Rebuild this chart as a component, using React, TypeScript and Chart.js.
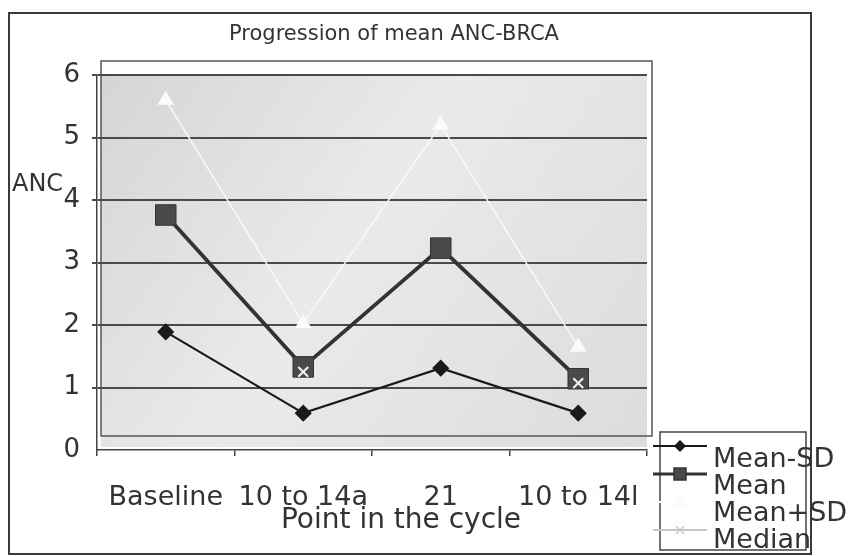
import React, { useEffect, useRef } from 'react';
import { Chart, registerables } from 'chart.js';

Chart.register(...registerables);

const categories = ['Baseline', '10 to 14a', '21', '10 to 14l'];
const meanMinusSD = [1.89, 0.59, 1.31, 0.59];
const meanValues = [3.76, 1.33, 3.23, 1.14];
const meanPlusSD = [5.6, 2.03, 5.2, 1.65];
const medianValues = [null, 1.25, null, 1.07];
const seriesNames = ['Mean-SD', 'Mean', 'Mean+SD', 'Median'];
const yMin = 0;
const yMax = 6;
const yStep = 1;
const titleText = 'Progression of mean ANC-BRCA';
const yTitleText = 'ANC';
const xTitleText = 'Point in the cycle';

const FONT = '"DejaVu Sans", sans-serif';
const TEXT = '#333333';

function drawMarker(ctx: CanvasRenderingContext2D, style: string, x: number, y: number, r: number, fill: string, stroke: string) {
  ctx.save();
  ctx.fillStyle = fill;
  ctx.strokeStyle = stroke;
  ctx.lineWidth = 1.5;
  ctx.beginPath();
  if (style === 'rectRot') {
    ctx.moveTo(x - r, y); ctx.lineTo(x, y - r); ctx.lineTo(x + r, y); ctx.lineTo(x, y + r); ctx.closePath();
    ctx.fill(); ctx.stroke();
  } else if (style === 'rect') {
    ctx.rect(x - r, y - r, 2 * r, 2 * r); ctx.fill(); ctx.stroke();
  } else if (style === 'triangle') {
    ctx.moveTo(x, y - r); ctx.lineTo(x + r * 0.9, y + r * 0.6); ctx.lineTo(x - r * 0.9, y + r * 0.6); ctx.closePath();
    ctx.fill(); ctx.stroke();
  } else {
    ctx.moveTo(x - r, y - r); ctx.lineTo(x + r, y + r); ctx.moveTo(x + r, y - r); ctx.lineTo(x - r, y + r);
    ctx.stroke();
  }
  ctx.restore();
}

const decor = {
  id: 'decor',
  beforeDraw(chart: any) {
    const { ctx, chartArea: a, width, height } = chart;
    ctx.save();
    ctx.fillStyle = '#ffffff';
    ctx.fillRect(0, 0, width, height);
    // outer chart frame
    ctx.strokeStyle = '#3a3a3a';
    ctx.lineWidth = 2;
    ctx.strokeRect(9, 13, 802, 541);
    // plot background
    const x0 = a.left + 4, y0 = a.top, x1 = a.right, y1 = a.bottom - 3;
    const g = ctx.createLinearGradient(x0, y0, x1, y1);
    g.addColorStop(0, '#d5d5d5');
    g.addColorStop(0.45, '#eaeaea');
    g.addColorStop(1, '#dcdcdc');
    ctx.fillStyle = g;
    ctx.fillRect(x0, y0, x1 - x0, y1 - y0);
    // plot frame
    ctx.strokeStyle = '#555555';
    ctx.lineWidth = 1.5;
    ctx.strokeRect(a.left + 4, a.top - 14, a.right - a.left + 1, a.bottom - a.top);
    ctx.restore();
  },
  afterDraw(chart: any) {
    const { ctx } = chart;
    const ds = chart.data.datasets;
    ctx.save();
    ctx.fillStyle = TEXT;
    // title
    ctx.font = `21px ${FONT}`;
    ctx.textAlign = 'center';
    ctx.textBaseline = 'alphabetic';
    ctx.fillText(titleText, 394, 40);
    // y title (horizontal)
    ctx.font = `24px ${FONT}`;
    ctx.textAlign = 'left';
    ctx.fillText(yTitleText, 12, 191);
    // x title
    ctx.font = `28px ${FONT}`;
    ctx.textAlign = 'center';
    ctx.fillText(xTitleText, 401, 528);
    // legend box
    ctx.strokeStyle = '#444444';
    ctx.lineWidth = 1.5;
    ctx.strokeRect(660, 432, 146, 118);
    const legendR = [5, 6, 6, 4];
    ds.forEach((d: any, i: number) => {
      const ly = 446 + i * 28;
      ctx.strokeStyle = i === 2 ? '#ffffff' : (i === 3 ? '#c8c8c8' : d.borderColor);
      ctx.lineWidth = i === 1 ? 3 : 2;
      ctx.beginPath();
      ctx.moveTo(653, ly);
      ctx.lineTo(707, ly);
      ctx.stroke();
      const fill = i === 3 ? '#c8c8c8' : d.pointBackgroundColor;
      const stroke = i === 3 ? '#c8c8c8' : d.pointBorderColor;
      drawMarker(ctx, d.pointStyle, 680, ly, legendR[i], fill, stroke);
      ctx.fillStyle = TEXT;
      ctx.font = `27px ${FONT}`;
      ctx.textAlign = 'left';
      ctx.fillText(d.label, 713, 467 + i * 27);
    });
    ctx.restore();
  },
};

export default function App() {
  const ref = useRef<HTMLCanvasElement | null>(null);
  useEffect(() => {
    if (!ref.current) return;
    const chart = new Chart(ref.current, {
      type: 'line',
      data: {
        labels: categories,
        datasets: [
          {
            label: seriesNames[0], data: meanMinusSD, order: 3,
            borderColor: '#1a1a1a', borderWidth: 2.2,
            pointStyle: 'rectRot', pointRadius: 7, pointBackgroundColor: '#1a1a1a', pointBorderColor: '#1a1a1a',
          },
          {
            label: seriesNames[1], data: meanValues, order: 2,
            borderColor: '#333333', borderWidth: 3.8,
            pointStyle: 'rect', pointRadius: 14.5, pointBackgroundColor: '#4a4a4a', pointBorderColor: '#333333', pointBorderWidth: 1,
          },
          {
            label: seriesNames[2], data: meanPlusSD, order: 1,
            borderColor: '#f9f9f9', borderWidth: 1.5,
            pointStyle: 'triangle', pointRadius: 8, pointBackgroundColor: '#fbfbfb', pointBorderColor: '#fbfbfb',
          },
          {
            label: seriesNames[3], data: medianValues, order: 0,
            borderColor: '#eeeeee', borderWidth: 1,
            pointStyle: 'crossRot', pointRadius: 7, pointBackgroundColor: '#f2f2f2', pointBorderColor: '#f2f2f2', pointBorderWidth: 2,
          },
        ] as any,
      },
      options: {
        animation: false,
        responsive: true,
        maintainAspectRatio: false,
        layout: { padding: { left: 0, right: 218, top: 75, bottom: 0 } },
        plugins: { legend: { display: false }, tooltip: { enabled: false }, title: { display: false } },
        elements: { line: { tension: 0 } },
        scales: {
          x: {
            type: 'category',
            offset: true,
            afterFit: (s: any) => { s.height = 106; },
            grid: { display: true, drawOnChartArea: false, drawTicks: true, tickLength: 6, offset: true, color: '#444444', lineWidth: 1.5 },
            border: { display: true, color: '#444444', width: 1.5 },
            ticks: { color: TEXT, font: { family: FONT, size: 27 }, padding: 26, maxRotation: 0, autoSkip: false },
          },
          y: {
            min: yMin, max: yMax,
            afterFit: (s: any) => { s.width = 97; },
            grid: {
              color: (c: any) => (c.tick && c.tick.value === 0 ? 'rgba(0,0,0,0)' : '#4a4a4a'),
              lineWidth: 2, tickLength: 5, drawTicks: true,
            },
            border: { display: true, color: '#444444', width: 1.5 },
            ticks: { stepSize: yStep, color: TEXT, font: { family: FONT, size: 26 }, padding: 12 },
          },
        },
      } as any,
      plugins: [decor],
    });
    return () => chart.destroy();
  }, []);
  return (
    <div style={{ position: 'fixed', left: 0, top: 0, width: 865, height: 556, background: '#fff' }}>
      <canvas ref={ref} />
    </div>
  );
}
